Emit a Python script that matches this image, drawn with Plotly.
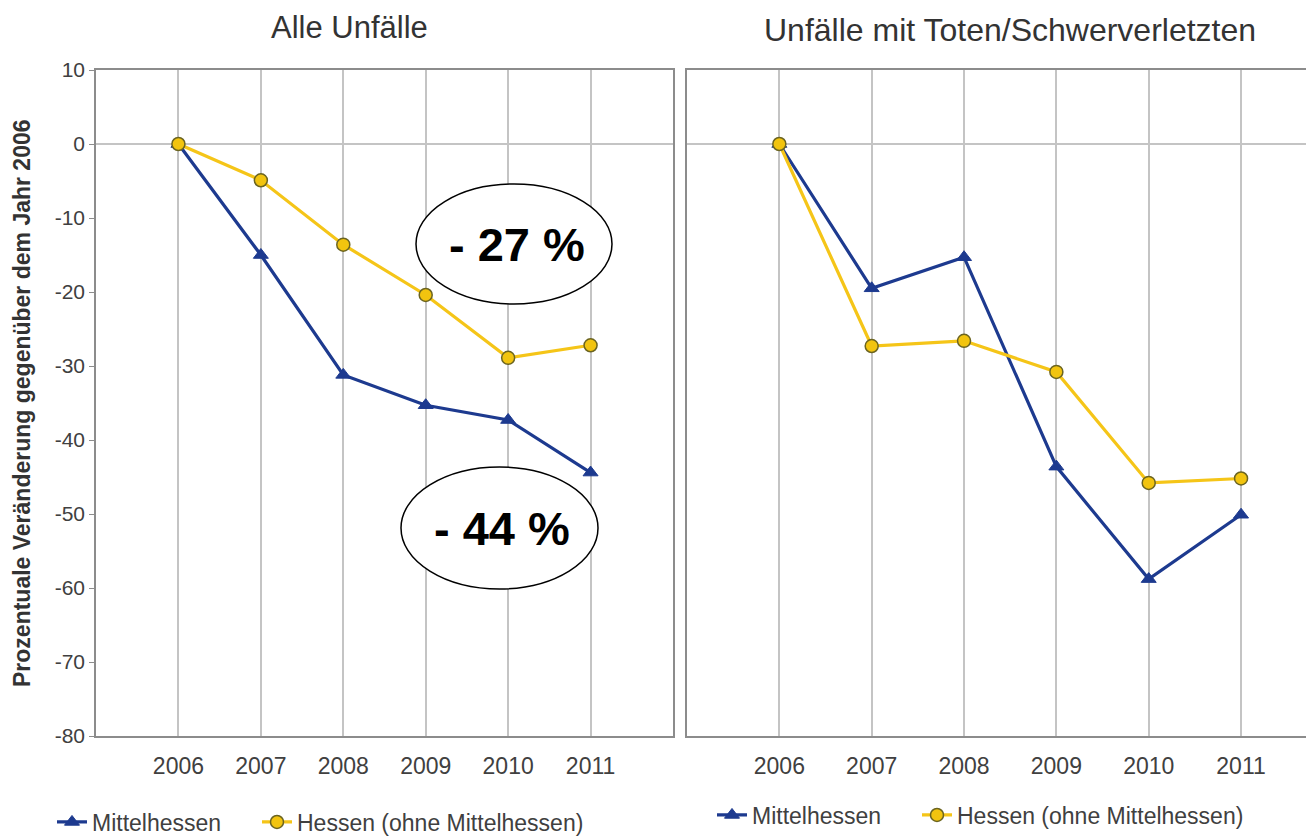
import plotly.graph_objects as go

years = [2006, 2007, 2008, 2009, 2010, 2011]
year_labels = ["2006", "2007", "2008", "2009", "2010", "2011"]

# Alle Unfälle
alle_mittel = [0, -15.0, -31.2, -35.3, -37.3, -44.4]
alle_hessen = [0, -4.9, -13.6, -20.4, -28.9, -27.2]

# Unfälle mit Toten/Schwerverletzten
schwer_mittel = [0, -19.5, -15.3, -43.6, -58.8, -50.1]
schwer_hessen = [0, -27.3, -26.6, -30.8, -45.8, -45.2]

y_tickvals = [10, 0, -10, -20, -30, -40, -50, -60, -70, -80]
y_ticktext = ["10", "0", "-10", "-20", "-30", "-40", "-50", "-60", "-70", "-80"]

BLUE = "#1d3a8f"
YELLOW = "#f5c518"
YFILL = "#f2c40f"
YEDGE = "#6b6420"
GRID = "#c4c4c4"
AXLINE = "#8c8c8c"
FONT = "Liberation Sans, Arial, sans-serif"
W, H = 1306, 830   # page body adds 8px margin
OFF = 8


def px(x):
    return (x - OFF) / W


def py(y):
    return 1 - (y - OFF) / H


fig = go.Figure()


def add_pair(xa, ya, mittel, hessen, leg_a, leg_b):
    fig.add_trace(go.Scatter(
        x=years, y=mittel, name="Mittelhessen", mode="lines+markers",
        xaxis=xa, yaxis=ya, legend=leg_a,
        line=dict(color=BLUE, width=3.2),
        marker=dict(symbol="triangle-up", size=13, color=BLUE,
                    line=dict(color=BLUE, width=1))))
    fig.add_trace(go.Scatter(
        x=years, y=hessen, name="Hessen (ohne Mittelhessen)", mode="lines+markers",
        xaxis=xa, yaxis=ya, legend=leg_b,
        line=dict(color=YELLOW, width=3.2),
        marker=dict(symbol="circle", size=13, color=YFILL,
                    line=dict(color=YEDGE, width=1.5))))


add_pair("x", "y", alle_mittel, alle_hessen, "legend", "legend2")
add_pair("x2", "y2", schwer_mittel, schwer_hessen, "legend3", "legend4")

ytop = py(70)
ybot = py(736)

xcommon = dict(tickvals=years, ticktext=year_labels, showgrid=True, gridcolor=GRID,
               gridwidth=1.5, ticks="outside", ticklen=9, tickcolor="rgba(0,0,0,0)",
               zeroline=False,
               tickfont=dict(family=FONT, size=23, color="#404040"),
               showline=True, linecolor=AXLINE, linewidth=1.5, mirror=True)
ycommon = dict(range=[-80, 10], tickvals=y_tickvals, ticktext=y_ticktext,
               showgrid=False, zeroline=True,
               zerolinecolor=GRID, zerolinewidth=1.5, domain=[ybot, ytop],
               showline=True, linecolor=AXLINE, linewidth=1.5)

legfont = dict(family=FONT, size=23, color="#404040")


def leg(text_x, center_y):
    return dict(orientation="h", x=px(text_x - 40), xanchor="left",
                y=py(center_y), yanchor="middle",
                font=legfont, bgcolor="rgba(0,0,0,0)")


fig.update_layout(
    width=W, height=H,
    margin=dict(l=0, r=0, t=0, b=0, autoexpand=False),
    paper_bgcolor="white", plot_bgcolor="white",
    xaxis=dict(domain=[px(96), px(673)], range=[2005, 2012], anchor="y", **xcommon),
    yaxis=dict(anchor="x", mirror=True, ticks="outside", ticklen=5, tickcolor=AXLINE,
               tickfont=dict(family=FONT, size=21, color="#404040"), **ycommon),
    xaxis2=dict(domain=[px(687), 1.0], range=[2005, 2011.79], anchor="y2", **xcommon),
    yaxis2=dict(anchor="x2", mirror=False, ticks="", showticklabels=False, **ycommon),
    legend=leg(92, 822),
    legend2=leg(297, 822),
    legend3=leg(752, 815),
    legend4=leg(957, 815),
    showlegend=True,
)

# Titles
fig.add_annotation(text="Alle Unfälle", x=px(350), y=1.0, xref="paper", yref="paper",
                   showarrow=False, font=dict(family=FONT, size=31, color="#333333"),
                   xanchor="center", yanchor="top")
fig.add_annotation(text="Unfälle mit Toten/Schwerverletzten", x=px(1010), y=py(30),
                   xref="paper", yref="paper", showarrow=False,
                   font=dict(family=FONT, size=32, color="#333333"),
                   xanchor="center", yanchor="middle")
fig.add_annotation(text="<b>Prozentuale Veränderung gegenüber dem Jahr 2006</b>",
                   x=px(22), y=py(403), xref="paper", yref="paper", showarrow=False,
                   textangle=-90, font=dict(family=FONT, size=23, color="#333333"),
                   xanchor="center", yanchor="middle")


# Ellipse callouts
def ellipse(x0, y0, x1, y1, label):
    fig.add_shape(type="circle", xref="paper", yref="paper",
                  x0=px(x0), x1=px(x1), y0=py(y1), y1=py(y0),
                  line=dict(color="black", width=1.5), fillcolor="white", layer="above")
    fig.add_annotation(text=f"<b>{label}</b>", xref="paper", yref="paper",
                       x=px((x0 + x1) / 2 + 3), y=py((y0 + y1) / 2),
                       showarrow=False, font=dict(family=FONT, size=47, color="black"),
                       xanchor="center", yanchor="middle")


ellipse(416, 184, 612, 304, "- 27 %")
ellipse(401, 467, 598, 589, "- 44 %")

fig.write_html("out.html")
